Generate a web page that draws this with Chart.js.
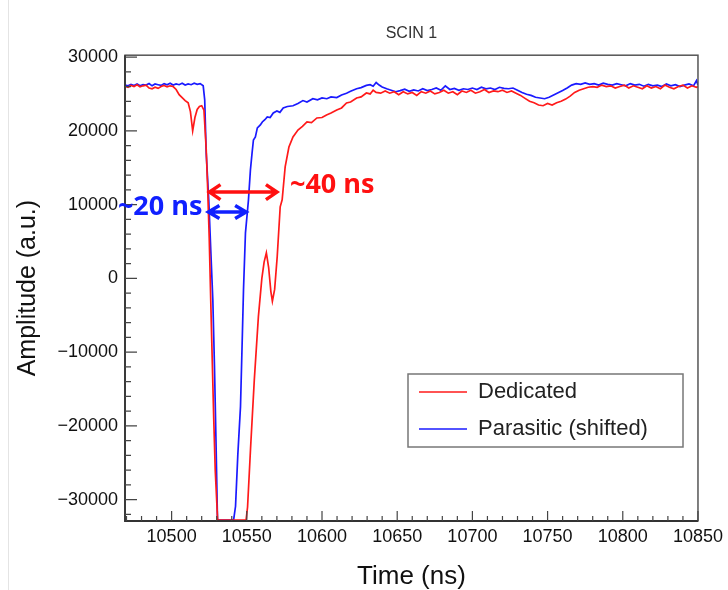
<!doctype html>
<html>
<head>
    <meta charset="utf-8">
    <script src="https://cdn.jsdelivr.net/npm/chart.js@4.4.0/dist/chart.umd.min.js"></script>
    <style>
        body { margin: 0; background: #fff; }
    </style>
</head>
<body>
<canvas id="chart" width="728" height="590"></canvas>
<script>
// Dedicated (red) waveform: time in ns, amplitude in a.u.
const dedTime = [10469, 10471, 10473, 10475, 10477, 10479, 10481, 10483, 10485, 10487, 10489, 10491, 10493, 10495, 10497, 10499,
    10501, 10503, 10505, 10507, 10509, 10511, 10512.5, 10514, 10515.5, 10517, 10518.5, 10520, 10521.5, 10523, 10524, 10525,
    10526, 10527, 10528, 10529, 10530.6, 10549.5, 10550.5, 10552.5, 10555, 10557.7, 10560, 10561.5, 10563, 10564.5, 10566,
    10567, 10568.5, 10570.2, 10572.2, 10573.5, 10575.5, 10578, 10580.7, 10584, 10587, 10590, 10593, 10596.6, 10600, 10603,
    10606, 10609.8, 10613, 10616.3, 10619, 10623, 10626, 10629.5, 10632, 10634, 10636, 10639, 10642, 10645, 10648, 10651,
    10654, 10657, 10660, 10663, 10666, 10669, 10672, 10675, 10678, 10681, 10684, 10687, 10690, 10693, 10696, 10699, 10702,
    10705, 10708, 10711, 10714, 10717, 10720, 10723, 10726, 10729, 10732, 10735, 10738, 10741, 10744, 10747, 10750, 10753,
    10756, 10759, 10762, 10765, 10768, 10771, 10774, 10777, 10780, 10783, 10786, 10789, 10792, 10795, 10798, 10801, 10804,
    10807, 10810, 10813, 10816, 10819, 10822, 10825, 10828, 10831, 10834, 10837, 10840, 10843, 10846, 10849, 10850];
const dedAmp = [26050, 25900, 26150, 26000, 26250, 25950, 26100, 26200, 25800, 25700, 25900, 25750, 26000, 26150, 25950, 26100,
    26000, 25600, 24900, 24500, 24100, 23800, 22600, 20000, 21800, 22900, 23300, 23400, 22800, 17500, 12000, 5500,
    -2900, -11000, -19000, -26000, -32768, -32768, -31000, -23000, -13700, -5200, 0, 2200, 3460, 1500, -1800,
    -3100, -1500, 2900, 9700, 10640, 15100, 17800, 19170, 20100, 20600, 21200, 21100, 21740, 21800, 22150,
    22400, 22820, 23100, 23770, 23900, 24450, 24600, 25130, 25000, 25500, 25200, 25100, 25400, 25100, 25300, 24900,
    25300, 25000, 25200, 24800, 25300, 25100, 25400, 25000, 25200, 25500, 25100, 25300, 24900, 25400, 25200, 25500, 25100,
    25300, 25600, 25200, 25400, 25300, 25500, 25200, 25400, 25100, 24800, 24400, 24000, 23800, 23500, 23400, 23700, 23500,
    23800, 24000, 24300, 24700, 25200, 25500, 25700, 25900, 26000, 25900, 26200, 26000, 26100, 25800, 26000, 26200, 25800,
    26100, 25900, 25700, 26100, 25800, 26000, 25700, 26200, 25900, 25700, 26000, 26200, 25800, 26100, 25900, 26000];

// Parasitic (shifted, blue) waveform
const parTime = [10469, 10471, 10473, 10475, 10477, 10479, 10481, 10483, 10485, 10487, 10489, 10491, 10493, 10495, 10497, 10499,
    10501, 10503, 10505, 10507, 10509, 10511, 10513, 10515, 10517, 10519, 10521, 10522, 10523, 10524.7, 10526, 10527.4,
    10528.5, 10529.5, 10530.5, 10541.2, 10542.5, 10544, 10545.8, 10547, 10547.8, 10549.1, 10551.1, 10552.4, 10553.5, 10554.4,
    10555.7, 10557, 10559, 10560.3, 10562, 10563.6, 10565.5, 10567.6, 10570, 10572, 10574.2, 10577, 10580.7, 10584, 10587.3,
    10590, 10593.9, 10597, 10600, 10603.2, 10606, 10609.8, 10613, 10616.3, 10619, 10623, 10626, 10629.5, 10632, 10634, 10636,
    10638, 10640, 10643, 10646, 10649, 10652, 10655, 10658, 10661, 10664, 10667, 10670, 10673, 10676, 10679, 10682, 10685,
    10688, 10691, 10694, 10697, 10700, 10703, 10706, 10709, 10712, 10715, 10718, 10721, 10724, 10727, 10730, 10733, 10736,
    10739, 10742, 10745, 10748, 10751, 10754, 10757, 10760, 10763, 10766, 10769, 10772, 10775, 10778, 10781, 10784, 10787,
    10790, 10793, 10796, 10799, 10802, 10805, 10808, 10811, 10814, 10817, 10820, 10823, 10826, 10829, 10832, 10835, 10838,
    10841, 10844, 10847, 10849, 10850];
const parAmp = [26200, 26100, 26300, 26150, 26350, 26100, 26250, 26200, 26400, 26100, 26350, 26250, 26150, 26400, 26250, 26450,
    26200, 26350, 26250, 26450, 26200, 26350, 26250, 26450, 26300, 26400, 26100, 24200, 17000, 10640, 4000, -2900,
    -12000, -22000, -32768, -32768, -30900, -24000, -17400, -8000, -1550, 6170, 10640, 14700, 17000, 18760,
    19170, 20390, 20790, 21200, 21500, 21880, 21800, 22420, 22700, 22500, 23100, 23300, 23400, 23700, 24100,
    23900, 24350, 24200, 24450, 24350, 24600, 24500, 24850, 25100, 25350, 25700, 25850, 26150, 26250, 26050, 26550,
    26200, 25950, 25700, 25500, 25300, 25450, 25650, 25350, 25550, 25400, 25700, 25450, 25600, 25800, 25500, 26100, 25600,
    25750, 25500, 25700, 25600, 25800, 25600, 25900, 25700, 25800, 25600, 25900, 25750, 25700, 25800, 25500, 25200, 24950,
    24800, 24550, 24450, 24350, 24550, 24850, 25150, 25450, 25800, 26200, 26400, 26300, 26500, 26300, 26400, 26200, 26450,
    26300, 26200, 26400, 26250, 26100, 26400, 26200, 26300, 26050, 26300, 26100, 26200, 26000, 26350, 26100, 26250, 26000,
    26200, 26350, 26100, 26800, 26200];

const xTicks = [10500, 10550, 10600, 10650, 10700, 10750, 10800, 10850];
const yTicks = [-30000, -20000, -10000, 0, 10000, 20000, 30000];

// width markers: [t start, t end, amplitude]
const widthDed = [10524.5, 10570.7, 11690];
const widthPar = [10523.8, 10550.2, 8980];

const FONT = '"Liberation Sans", Arial, sans-serif';

function arrow(ctx, x1, x2, yy, color, hl, hw) {
    ctx.strokeStyle = color;
    ctx.lineWidth = 3.5;
    ctx.lineJoin = 'miter';
    ctx.beginPath();
    ctx.moveTo(x1 + 2, yy); ctx.lineTo(x2 - 2, yy);
    ctx.moveTo(x1 + hl, yy - hw); ctx.lineTo(x1 + 1, yy); ctx.lineTo(x1 + hl, yy + hw);
    ctx.moveTo(x2 - hl, yy - hw); ctx.lineTo(x2 - 1, yy); ctx.lineTo(x2 - hl, yy + hw);
    ctx.stroke();
}

const overlay = {
    id: 'overlay',
    afterDraw(chart) {
        const {ctx, chartArea: a, scales: {x, y}} = chart;
        ctx.save();
        // faint slide edge
        ctx.strokeStyle = '#e4e4e4'; ctx.lineWidth = 1;
        ctx.beginPath(); ctx.moveTo(8.5, 0); ctx.lineTo(8.5, 590); ctx.stroke();

        // frame
        ctx.strokeStyle = '#555'; ctx.lineWidth = 1.5;
        ctx.strokeRect(a.left, a.top, a.right - a.left, a.bottom - a.top);
        ctx.strokeStyle = '#333'; ctx.lineWidth = 1.8;
        ctx.beginPath();
        ctx.moveTo(a.left, a.top); ctx.lineTo(a.left, a.bottom); ctx.lineTo(a.right, a.bottom);
        ctx.stroke();

        // inner tick marks
        ctx.strokeStyle = '#444'; ctx.lineWidth = 1.2;
        ctx.beginPath();
        for (let v = 10470; v <= 10850; v += 10) {
            const px = x.getPixelForValue(v);
            const len = v % 50 === 0 ? 10 : 5;
            ctx.moveTo(px, a.bottom); ctx.lineTo(px, a.bottom - len);
        }
        for (let v = -32000; v <= 30000; v += 2000) {
            const py = y.getPixelForValue(v);
            const len = v % 10000 === 0 ? 12 : 6;
            ctx.moveTo(a.left, py); ctx.lineTo(a.left + len, py);
        }
        ctx.stroke();

        // width arrows
        arrow(ctx, x.getPixelForValue(widthDed[0]), x.getPixelForValue(widthDed[1]),
            y.getPixelForValue(widthDed[2]), '#ff1010', 12, 7.5);
        arrow(ctx, x.getPixelForValue(widthPar[0]), x.getPixelForValue(widthPar[1]),
            y.getPixelForValue(widthPar[2]), '#1020ff', 12, 6.5);

        ctx.font = 'bold 27px "Open Sans", sans-serif';
        ctx.textBaseline = 'middle';
        ctx.fillStyle = '#ff1010';
        ctx.textAlign = 'left';
        ctx.fillText('~40 ns', x.getPixelForValue(widthDed[1]) + 12, y.getPixelForValue(widthDed[2]) - 7);
        ctx.fillStyle = '#1020ff';
        ctx.textAlign = 'right';
        ctx.fillText('~20 ns', x.getPixelForValue(widthPar[0]) - 5, y.getPixelForValue(widthPar[2]) - 5);

        // legend box
        const lx = 408, ly = 374, lw = 275, lh = 73;
        ctx.fillStyle = '#fff';
        ctx.fillRect(lx, ly, lw, lh);
        ctx.strokeStyle = '#777'; ctx.lineWidth = 1.5;
        ctx.strokeRect(lx, ly, lw, lh);
        ctx.font = '22px ' + FONT;
        ctx.textAlign = 'left';
        chart.data.datasets.forEach((ds, i) => {
            const yy = ly + 18 + i * 37;
            ctx.strokeStyle = ds.borderColor; ctx.lineWidth = 1.3;
            ctx.beginPath(); ctx.moveTo(lx + 11, yy); ctx.lineTo(lx + 59, yy); ctx.stroke();
            ctx.fillStyle = '#222';
            ctx.fillText(ds.label, lx + 70, yy);
        });
        ctx.restore();
    }
};

const ctx = document.getElementById('chart').getContext('2d');
const chart = new Chart(ctx, {
    type: 'line',
    data: {
        datasets: [
            {
                label: 'Dedicated',
                data: dedTime.map((t, i) => ({x: t, y: dedAmp[i]})),
                borderColor: '#ff1a1a',
                borderWidth: 1.7,
                pointRadius: 0,
                tension: 0
            },
            {
                label: 'Parasitic (shifted)',
                data: parTime.map((t, i) => ({x: t, y: parAmp[i]})),
                borderColor: '#1a1aff',
                borderWidth: 1.7,
                pointRadius: 0,
                tension: 0
            }
        ]
    },
    options: {
        responsive: false,
        animation: false,
        layout: { padding: { left: 0, right: 26, top: 0, bottom: 0 } },
        plugins: {
            legend: { display: false },
            tooltip: { enabled: false },
            title: {
                display: true,
                text: 'SCIN 1',
                fullSize: false,
                color: '#333',
                font: { family: FONT, size: 16, weight: 'normal' },
                padding: { top: 24, bottom: 12 }
            }
        },
        scales: {
            x: {
                type: 'linear',
                min: 10469,
                max: 10850,
                afterBuildTicks: s => { s.ticks = xTicks.map(v => ({value: v})); },
                afterFit: s => { s.height = 69; },
                grid: { display: false, drawTicks: false },
                border: { display: false },
                ticks: { color: '#111', font: { family: FONT, size: 18 }, padding: 5, maxRotation: 0,
                    callback: v => String(v) },
                title: { display: true, text: 'Time (ns)', color: '#111',
                    font: { family: FONT, size: 26, lineHeight: 1 }, padding: { top: 0, bottom: 0 } }
            },
            y: {
                min: -32900,
                max: 30250,
                afterBuildTicks: s => { s.ticks = yTicks.map(v => ({value: v})); },
                afterFit: s => { s.width = 125; },
                grid: { display: false, drawTicks: false },
                border: { display: false },
                ticks: { color: '#111', font: { family: FONT, size: 18 }, padding: 7,
                    callback: v => (v < 0 ? '\u2212' + Math.abs(v) : String(v)) },
                title: { display: true, text: 'Amplitude (a.u.)', color: '#111',
                    font: { family: FONT, size: 25, lineHeight: 1.2 }, padding: { top: 13.5, bottom: 0 } }
            }
        }
    },
    plugins: [overlay]
});
</script>
</body>
</html>
